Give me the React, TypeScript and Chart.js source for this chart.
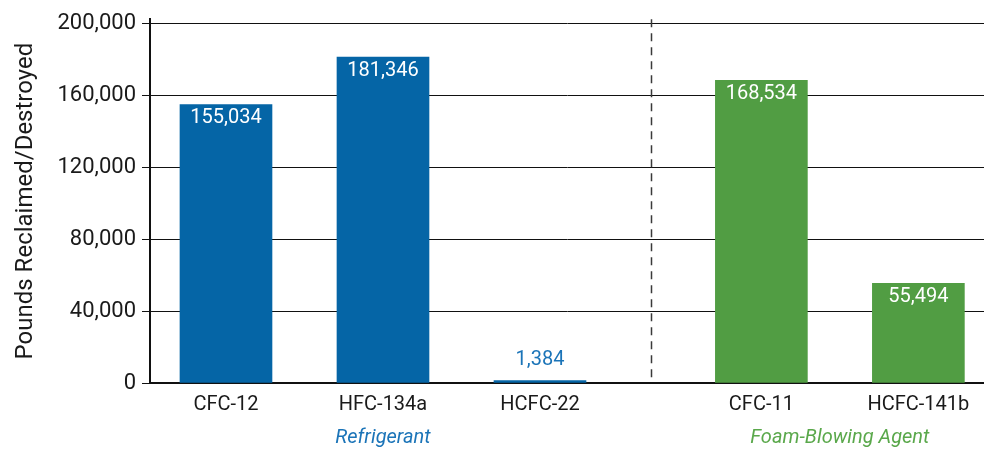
import { useEffect, useRef } from "react";
import { Chart, registerables } from "chart.js";

Chart.register(...registerables);

// ---- data ----
const categories = ["CFC-12", "HFC-134a", "HCFC-22", "CFC-11", "HCFC-141b"];
const values = [155034, 181346, 1384, 168534, 55494];
const groupOf = [0, 0, 0, 1, 1];
const groupNames = ["Refrigerant", "Foam-Blowing Agent"];
const yTicks = [0, 40000, 80000, 120000, 160000, 200000];
const yTitle = "Pounds Reclaimed/Destroyed";

// ---- layout / style ----
const slotPositions = [0, 1, 2, 3.41, 4.41];
const BLUE = "#0565a6";
const GREEN = "#519d43";
const BLUE_TEXT = "#1b74b8";
const GREEN_TEXT = "#5aa84b";
const barColors = groupOf.map((g) => (g === 0 ? BLUE : GREEN));
const groupTextColors = [BLUE_TEXT, GREEN_TEXT];
const FONT = "Roboto, 'Liberation Sans', Arial, sans-serif";
const INK = "#1a1a1a";

const fmt = (v: number) => v.toLocaleString("en-US");

const overlayPlugin = {
  id: "overlay",
  beforeDatasetsDraw(chart: any) {
    const { ctx, chartArea, scales } = chart;
    const x = scales.x;
    // dashed divider between the two groups
    const lastA = slotPositions[groupOf.lastIndexOf(0)];
    const firstB = slotPositions[groupOf.indexOf(1)];
    const px = Math.round(x.getPixelForValue((lastA + firstB) / 2)) + 0.5;
    ctx.save();
    ctx.strokeStyle = "#3a3a3a";
    ctx.lineWidth = 1.5;
    ctx.setLineDash([8, 6]);
    ctx.beginPath();
    ctx.moveTo(px, chartArea.top);
    ctx.lineTo(px, chartArea.bottom);
    ctx.stroke();
    ctx.restore();
  },
  afterDatasetsDraw(chart: any) {
    const { ctx, scales } = chart;
    const meta = chart.getDatasetMeta(0);
    ctx.save();
    ctx.font = `20px ${FONT}`;
    ctx.textAlign = "center";
    ctx.textBaseline = "middle";
    meta.data.forEach((bar: any, i: number) => {
      const h = bar.base - bar.y;
      if (h > 30) {
        ctx.fillStyle = "#ffffff";
        ctx.fillText(fmt(values[i]), bar.x, bar.y + 14);
      } else {
        ctx.fillStyle = groupTextColors[groupOf[i]];
        ctx.fillText(fmt(values[i]), bar.x, bar.y - 21);
      }
    });
    // group labels
    const x = scales.x;
    ctx.font = `italic 20px ${FONT}`;
    groupNames.forEach((name, g) => {
      const pos = slotPositions.filter((_, i) => groupOf[i] === g);
      const mid = (Math.min(...pos) + Math.max(...pos)) / 2;
      ctx.fillStyle = groupTextColors[g];
      ctx.fillText(name, x.getPixelForValue(mid), 438);
    });
    ctx.restore();
  },
};

export default function App() {
  const canvasRef = useRef<HTMLCanvasElement | null>(null);

  useEffect(() => {
    const canvas = canvasRef.current;
    if (!canvas) return;
    const chart = new Chart(canvas, {
      type: "bar",
      data: {
        datasets: [
          {
            data: values.map((v, i) => ({ x: slotPositions[i], y: v })),
            backgroundColor: barColors,
            borderWidth: 0,
            barThickness: 92,
          },
        ],
      },
      options: {
        responsive: false,
        animation: false,
        devicePixelRatio: 1,
        layout: { padding: { top: 16, right: 0, bottom: 0, left: 0 } },
        plugins: {
          legend: { display: false },
          tooltip: { enabled: false },
        },
        scales: {
          x: {
            type: "linear",
            offset: false,
            min: -0.484,
            max: 4.828,
            afterBuildTicks: (scale: any) => {
              scale.ticks = slotPositions.map((v) => ({ value: v }));
            },
            afterFit: (scale: any) => {
              scale.height = 67;
            },
            grid: { display: false, offset: false },
            border: { display: true, color: "#111", width: 2 },
            ticks: {
              autoSkip: false,
              maxRotation: 0,
              padding: 2,
              color: INK,
              font: { family: FONT, size: 20 },
              callback: (_v: any, i: number) => categories[i],
            },
          },
          y: {
            type: "linear",
            min: 0,
            max: 202500,
            afterBuildTicks: (scale: any) => {
              scale.ticks = yTicks.map((v) => ({ value: v }));
            },
            afterFit: (scale: any) => {
              scale.width = 150;
            },
            grid: {
              color: "#111",
              lineWidth: 1,
              tickLength: 8,
              drawTicks: true,
            },
            border: { display: true, color: "#111", width: 2 },
            ticks: {
              padding: 6,
              color: INK,
              font: { family: FONT, size: 22 },
              callback: (v: any) => fmt(Number(v)),
            },
            title: {
              display: true,
              text: yTitle,
              color: INK,
              font: { family: FONT, size: 24 },
              padding: { top: 12, bottom: 0 },
            },
          },
        },
      },
      plugins: [overlayPlugin],
    } as any);
    return () => chart.destroy();
  }, []);

  return (
    <div style={{ position: "fixed", left: 0, top: 0, width: 984, height: 450, background: "#fff" }}>
      <canvas ref={canvasRef} width={984} height={450} style={{ display: "block" }} />
    </div>
  );
}
